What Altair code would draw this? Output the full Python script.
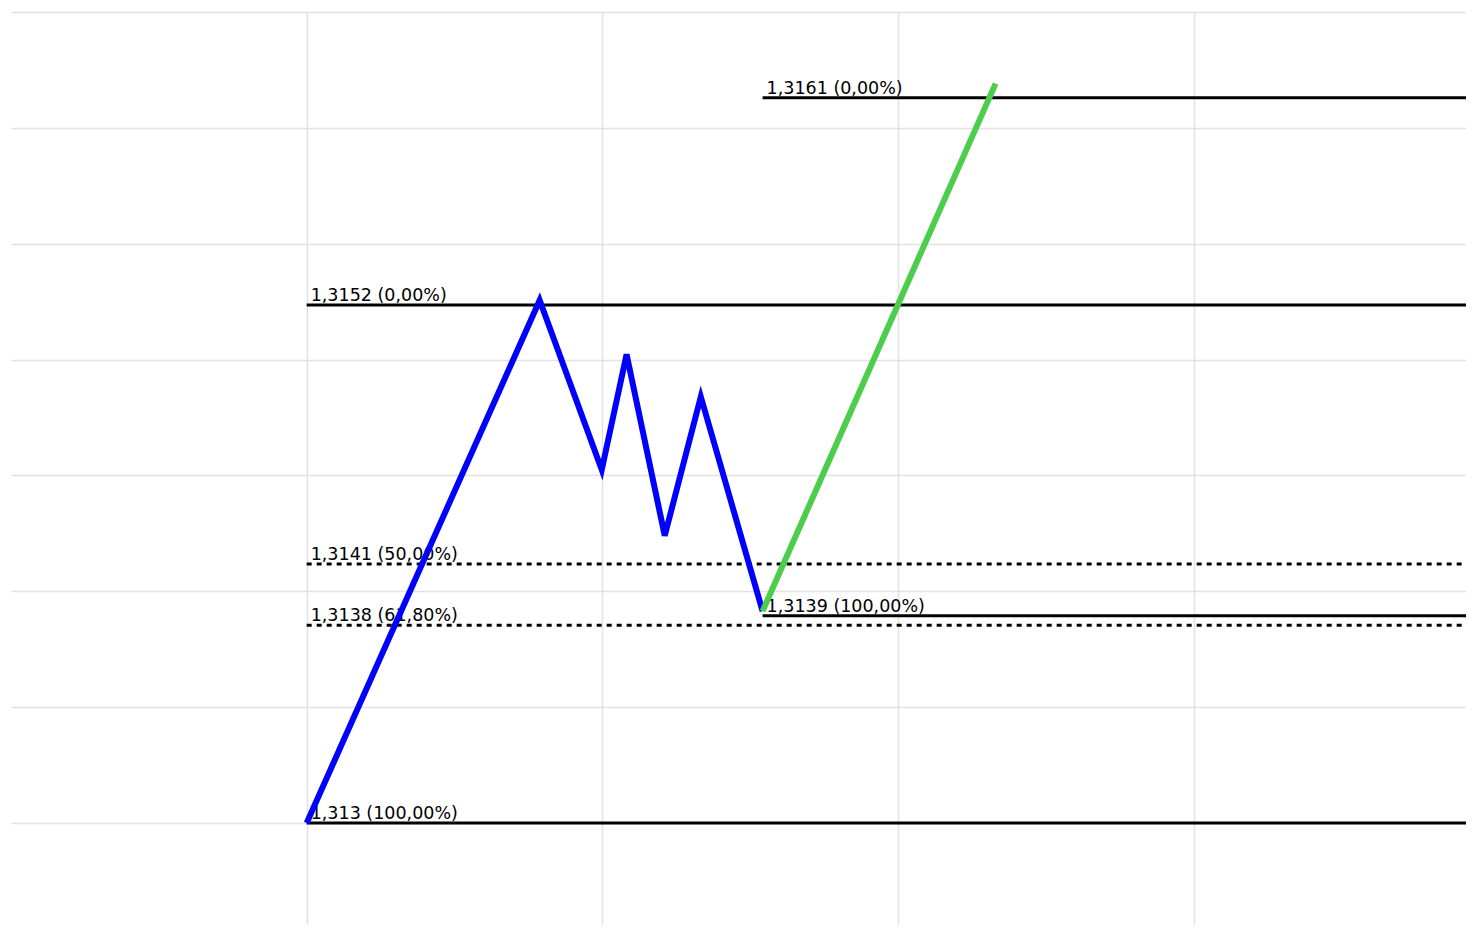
import altair as alt
import pandas as pd

# Price path: impulse + correction (blue), projected move (green)
blue_x = [1.0, 1.788, 1.998, 2.082, 2.211, 2.333, 2.542]
blue_y = [1.3130, 1.31522, 1.31450, 1.31499, 1.31422, 1.31481, 1.31390]
green_x = [2.542, 3.330]
green_y = [1.31390, 1.31614]

# Fibonacci levels
level_y = [1.31608, 1.3152, 1.3141, 1.31384, 1.31388, 1.3130]
level_x0 = [2.542, 1.0, 1.0, 1.0, 2.542, 1.0]
level_label = ["1,3161 (0,00%)", "1,3152 (0,00%)", "1,3141 (50,00%)",
               "1,3138 (61,80%)", "1,3139 (100,00%)", "1,313 (100,00%)"]
level_dotted = [False, False, True, True, False, False]

# Grid positions (no tick labels shown)
grid_x = [1, 2, 3, 4]
grid_y = [1.3130, 1.313493, 1.313985, 1.314478, 1.314966, 1.315459, 1.315952, 1.316444]

X_DOMAIN = [0.0, 4.921]
Y_DOMAIN = [1.312567, 1.316444]

levels = pd.DataFrame({
    "y": level_y, "x0": level_x0, "x1": [X_DOMAIN[1]] * len(level_y),
    "label": level_label, "dotted": level_dotted,
})
blue = pd.DataFrame({"x": blue_x, "y": blue_y, "o": list(range(len(blue_x)))})
green = pd.DataFrame({"x": green_x, "y": green_y, "o": list(range(len(green_x)))})

xs = alt.Scale(domain=X_DOMAIN, nice=False, zero=False)
ys = alt.Scale(domain=Y_DOMAIN, nice=False, zero=False)
xax = alt.Axis(values=grid_x, labels=False, ticks=False, domain=False, title=None,
               grid=True, gridColor="#e2e2e2", gridWidth=1.5)
yax = alt.Axis(values=grid_y, labels=False, ticks=False, domain=False, title=None,
               grid=True, gridColor="#e2e2e2", gridWidth=1.5)

base_lv = alt.Chart(levels)

solid = base_lv.transform_filter("!datum.dotted").mark_rule(
    color="black", strokeWidth=3
).encode(
    x=alt.X("x0:Q", scale=xs, axis=xax), x2="x1:Q",
    y=alt.Y("y:Q", scale=ys, axis=yax),
)
dotted = base_lv.transform_filter("datum.dotted").mark_rule(
    color="black", strokeWidth=3, strokeDash=[5, 5]
).encode(
    x=alt.X("x0:Q", scale=xs), x2="x1:Q",
    y=alt.Y("y:Q", scale=ys),
)
labels = base_lv.mark_text(
    align="left", baseline="alphabetic", dx=4, dy=-4,
    font="DejaVu Sans", fontSize=17.5, color="black",
).encode(
    x=alt.X("x0:Q", scale=xs), y=alt.Y("y:Q", scale=ys), text="label:N",
)
blue_line = alt.Chart(blue).mark_line(color="#0000ff", strokeWidth=6).encode(
    x=alt.X("x:Q", scale=xs), y=alt.Y("y:Q", scale=ys), order="o:Q",
)
green_line = alt.Chart(green).mark_line(color="#4ccd4c", strokeWidth=6).encode(
    x=alt.X("x:Q", scale=xs), y=alt.Y("y:Q", scale=ys), order="o:Q",
)

chart = alt.layer(solid, dotted, labels, blue_line, green_line).properties(
    width=1455, height=913,
    autosize=alt.AutoSizeParams(type="none"),
    padding={"left": 3, "top": 4, "right": 0, "bottom": 0},
).configure_view(stroke=None)

chart.save("out.html", embed_options={"renderer": "svg", "actions": False})
